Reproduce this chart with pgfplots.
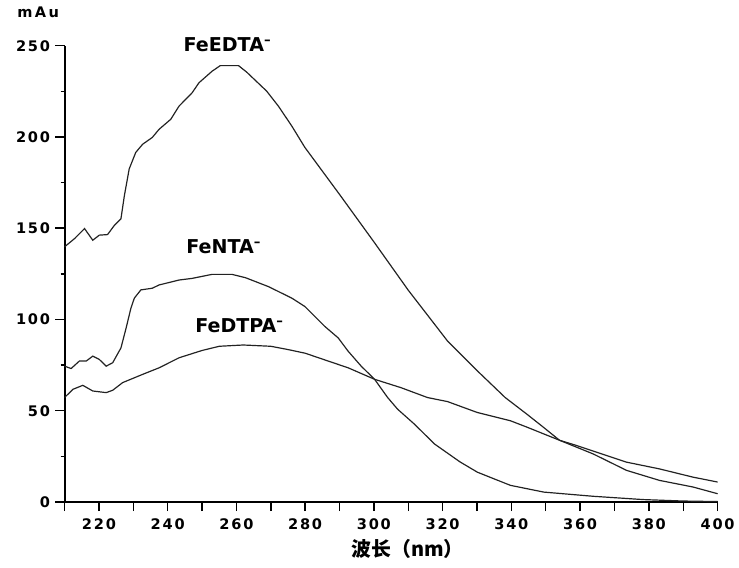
\documentclass[border=0pt]{standalone}
\usepackage{fontspec}
\usepackage{pgfplots}
\pgfplotsset{compat=1.18}
\setmainfont{DejaVu Sans}
\newfontfamily\tickfont[LetterSpace=12]{DejaVu Sans}
\newfontfamily\cjk{Noto Sans CJK SC}
\definecolor{curve}{HTML}{222222}

\pgfplotstableread{
x y
210 139.8
212.9 144.3
215.8 149.8
218.2 143.4
220.1 146.2
222.5 146.5
224.5 151.6
226.4 155.2
227.4 167.9
228.8 182.5
230.7 191.5
232.7 196.0
235.5 199.7
237.5 204.2
240.9 209.7
243.3 216.9
247.1 224.2
249.1 229.7
252.9 236.0
255.3 239.1
260.6 239.1
263.0 235.5
268.8 225.1
272.2 216.9
276.1 206.0
279.9 194.3
290 168.5
300 142.5
310 116
318.5 95.3
321.4 88.2
330 72
338.2 57.2
344.5 48.1
349.4 40.8
354 33.8
363.8 26.3
373.5 17.3
383.1 11.8
392.8 8.2
400 4.5
}\edta

\pgfplotstableread{
x y
210 74.4
211.9 73.1
214.3 77.2
216.3 77.2
218.2 79.9
220.1 78.1
222.1 74.4
224 76.3
226.4 84.4
227.9 95.3
229.3 106.2
230.3 111.7
232.2 116.2
235.5 117.1
237.5 118.9
243.3 121.6
247.1 122.5
252.9 124.7
258.7 124.7
262.6 122.9
269.3 118.0
276.1 111.7
279.9 107.1
285.7 96.2
289.6 89.9
292.5 82.6
296.3 74.4
300.2 67.2
304 57.2
306.9 50.8
311.8 42.6
317.6 31.8
325 22
330.1 16.3
339.7 9.1
349.4 5.4
363.8 3.1
378.3 1.3
390 0.5
400 0.2
}\nta

\pgfplotstableread{
x y
210 57.2
212.4 61.7
215.3 63.9
218.2 60.8
222.1 59.9
224 61.2
226.9 65.4
232.7 69.9
237.5 73.5
243.3 79.0
250 83.0
255 85.3
262 86.0
270 85.3
275 83.5
280 81.5
286.7 77.2
292.5 73.5
300.2 67.2
307.9 62.6
315.6 57.2
321.4 55.0
330.1 49.0
339.7 44.5
344.5 41.0
354 33.8
359 30.9
373.5 21.8
383.1 18.1
392.8 13.6
400 10.9
}\dtpa

\begin{document}
\begin{tikzpicture}
\begin{axis}[
    scale only axis,
    width=492.75pt, height=344.25pt,
    xmin=210, xmax=400, ymin=0, ymax=250,
    clip=false,
    axis x line*=bottom,
    axis y line*=left,
    axis line style={line width=1.5pt, -},
    tick align=outside,
    tick style={line width=1.1pt, black},
    major tick length=7pt,
    minor tick length=3pt,
    xtick={220,240,...,400},
    extra x ticks={210,230,...,390},
    extra x tick labels={},
    ytick={0,50,...,250},
    minor ytick={25,75,...,225},
    /pgf/number format/assume math mode=true,
    tick label style={font=\fontsize{11}{13}\tickfont\bfseries},
    yticklabel style={xshift=-0.5pt},
    xticklabel style={yshift=-2pt},
]
  \addplot[curve, line width=0.9pt] table {\edta};
  \addplot[curve, line width=0.9pt] table {\nta};
  \addplot[curve, line width=0.9pt] table {\dtpa};

  \node[font=\fontsize{14.4}{16}\selectfont\bfseries] at (axis cs:257.4,250.5) {FeEDTA\textsuperscript{--}};
  \node[font=\fontsize{14.4}{16}\selectfont\bfseries] at (axis cs:256.3,140) {FeNTA\textsuperscript{--}};
  \node[font=\fontsize{14.4}{16}\selectfont\bfseries] at (axis cs:260.9,96.4) {FeDTPA\textsuperscript{--}};
  \node[font=\fontsize{11}{13}\selectfont\bfseries] at (axis cs:202.3,268.3) {m\,A\,u};
  \node[font=\fontsize{15}{17}\cjk\bfseries] at (axis cs:309.8,-25.6) {波长（nm）};

  \path (rel axis cs:-0.0989,-0.1438) rectangle (rel axis cs:1.0259,1.1002);
\end{axis}
\end{tikzpicture}
\end{document}
